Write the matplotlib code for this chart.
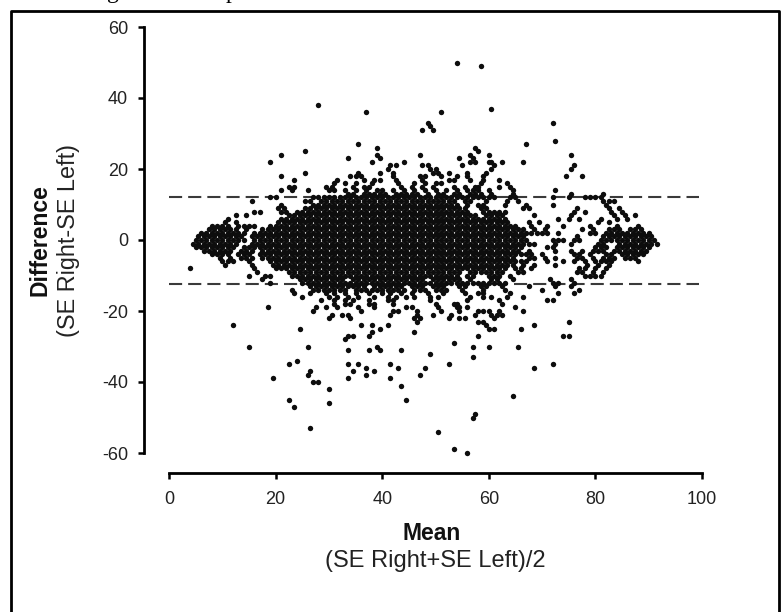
"""Bland-Altman style plot: SE right vs SE left."""
import matplotlib

matplotlib.use("Agg")
import matplotlib.pyplot as plt
from matplotlib.lines import Line2D
import numpy as np

plt.rcParams.update({"font.family": ["Liberation Sans", "DejaVu Sans"],
                     "axes.unicode_minus": False})

UPPER_LIMIT = 12
LOWER_LIMIT = -12.4
X_TICKS = [0, 20, 40, 60, 80, 100]
Y_TICKS = [60, 40, 20, 0, -20, -40, -60]

# dense part of the cloud, one row per difference value: (first mean, last mean)
CORE_Y = [13, 12, 11, 10, 9, 8, 7, 6, 5, 4, 3, 2, 1, 0, -1, -2, -3, -4, -5, -6, -7,
          -8, -9, -10, -11, -12, -13, -14]
CORE_RUNS = [
    [(33, 34.5), (36, 41), (42, 46.5), (48, 49), (50.5, 52),
     (53.5, 55), (56, 58.5), (60, 60.5), (64, 64.5), (75, 75), (81, 81)],
    [(19, 20), (26.5, 27), (28, 32), (33, 54), (55, 56), (57, 59.5), (60, 61), (63.5, 65),
     (71.5, 72), (75, 75.5), (77.5, 80), (81, 81.5)],
    [(15.5, 15.5), (25.5, 26.5), (28.5, 53.5), (55, 57), (59, 60), (63, 64), (65, 65),
     (81.5, 83.5)],
    [(21, 21), (27, 54.5), (55.5, 56), (57.5, 59), (63, 63), (66.5, 67), (71.5, 71.5), (82, 82)],
    [(20.5, 21.5), (25.5, 56), (58, 60), (66, 67.5), (76, 76), (82.5, 82.5), (84, 84)],
    [(15.5, 17), (21, 22), (24, 56.5), (59, 63), (75.5, 75.5), (77.5, 77.5), (83, 83), (85, 85)],
    [(12.5, 12.5), (14.5, 14.5), (22.5, 58), (59, 63), (68, 69), (75, 75), (83, 83),
     (85.5, 85.5), (87, 87)],
    [(11, 11), (21, 63.5), (72.5, 72.5), (74.5, 74.5), (76.5, 76.5), (80.5, 80.5),
     (83.5, 83.5), (85.5, 85.5)],
    [(10, 11), (12.5, 13), (20, 64), (67, 67.5), (69, 69.5), (80, 80), (82, 82)],
    [(8, 11.5), (13, 16), (19, 65), (67.5, 68.5), (70.5, 70.5), (73.5, 73.5), (79, 79.5),
     (83.5, 84.5), (87.5, 87.5)],
    [(7.5, 12.5), (14, 15), (17, 17), (18.5, 66.5), (68, 69), (70, 70.5), (77, 77), (79, 80),
     (82.5, 84.5), (86, 89)],
    [(6, 13), (14, 14), (16, 67), (68, 69), (70, 71), (72.5, 72.5), (79, 80), (82, 84),
     (85, 90)],
    [(5.5, 13.5), (15, 67), (76, 76), (81, 83.5), (84.5, 90.5)],
    [(5, 13), (14, 14), (16, 67.5), (71.5, 74), (75.5, 75.5), (77, 77), (81, 83), (84, 91)],
    [(4.5, 4.5), (5.5, 13), (15, 67), (67.5, 68.5), (72, 73), (75, 75), (80.5, 82), (84, 91.5)],
    [(5, 5), (6, 12.5), (14, 66.5), (70.5, 70.5), (72, 72), (79.5, 79.5), (80.5, 82),
     (83.5, 90.5)],
    [(6.5, 11.5), (13, 16), (17, 66), (67, 68), (72, 72), (75.5, 75.5), (77.5, 77.5), (79, 79),
     (80, 81.5), (83.5, 90)],
    [(8, 9), (10, 11.5), (13, 15), (17, 66), (66.5, 68.5), (69.5, 70), (75.5, 77), (78.5, 79.5),
     (82, 83.5), (84.5, 89)],
    [(9, 9), (11, 11), (13.5, 16), (17.5, 65), (67, 69), (70.5, 70.5), (72.5, 73), (76.5, 77.5),
     (79, 79), (81.5, 84), (85, 88)],
    [(9.5, 9.5), (11, 12), (15, 15.5), (18.5, 65), (66, 67.5), (71, 71), (73.5, 74), (75.5, 75.5),
     (77.5, 78.5), (80, 83.5), (87.5, 87.5)],
    [(10, 11), (15, 16), (19, 64.5), (66.5, 67), (68.5, 68.5), (72.5, 73), (78.5, 78.5),
     (80.5, 80.5), (82, 83)],
    [(4, 4), (16, 16), (20, 63), (65, 66.5), (68, 68), (77, 78), (79.5, 79.5), (82, 82)],
    [(16.5, 16.5), (22, 55), (56, 62.5), (65, 66.5), (76, 77.5), (79, 79), (81, 81)],
    [(15, 15), (17.5, 17.5), (19, 19), (23, 44), (45, 54), (55.5, 57), (60, 62), (64, 64.5),
     (78, 81.5)],
    [(17.5, 17.5), (24, 33), (34, 48), (49, 55), (56, 56.5), (60, 61.5), (64, 64), (71, 71.5),
     (75, 75)],
    [(18.5, 18.5), (25, 52), (53, 59), (60, 63), (71.5, 73), (75.5, 75.5)],
    [(26, 37), (38, 44), (45, 48), (49, 52), (54, 56), (58, 60), (62, 63), (67, 67), (72, 72),
     (75, 75)],
    [(23, 23), (27, 30), (31, 33.5), (35, 37), (38, 40), (41, 44), (46, 48), (49.5, 52), (55, 55),
     (58.5, 59), (62.5, 62.5), (69.5, 69.5), (76.5, 76.5)],
]

# scattered points around the cloud, row by row
FRINGE_Y = [50, 49, 38, 37, 36, 33, 32, 31, 28, 27, 26, 25, 24, 23, 22, 21, 20, 19, 18, 17, 16,
            15, 14, -15, -16, -17, -18, -19, -20, -21, -22, -23, -24, -25, -26, -27, -28, -29,
            -30, -31, -32, -33, -34, -35, -36, -37, -38, -39, -40, -41, -42, -44, -45, -46, -47,
            -49, -50, -53, -54, -59, -60]
FRINGE_X = [
    [54], [58.5], [28], [60.5], [37, 51], [48.5, 72], [49], [47.5, 49.5], [72.5], [35.5, 67],
    [39, 57.5], [25.5, 58], [21, 39, 47, 56.5, 60, 75.5], [33.5, 39.5, 54.5, 57],
    [19, 38, 44, 56.5, 57.5, 60, 60.5, 62.5, 66.5], [41.5, 42.5, 47.5, 48.5, 55, 61, 76],
    [41, 49, 50, 60.5, 75.5], [25.5, 35.5, 39.5, 42, 49.5, 50.5, 52.5, 56, 59.5],
    [21, 34, 35, 36, 42, 47, 48, 51, 54, 56, 59, 74.5, 77.5],
    [23.5, 31.5, 36.5, 38.5, 39.5, 42.5, 47.5, 52.5, 53.5, 56.5, 59, 62],
    [31, 33, 35, 38, 43, 46, 48, 50, 51, 58.5, 63.5],
    [22.5, 23.5, 29.5, 30.5, 34.5, 36.5, 37.5, 43.5, 45.5, 47.5, 49.5, 53.5, 55.5, 57.5, 58, 62, 64],
    [21, 23, 26, 30, 31, 33, 35, 37, 39, 40, 42, 44, 46, 48, 50, 52, 54, 56, 57, 58, 60, 64.5, 72.5],
    [23.5, 26.5, 29.5, 31, 33, 35, 37.5, 40, 41.5, 43.5, 45.5, 48.5, 51.5, 55.5, 58, 59, 64, 73, 76],
    [25, 30, 31.5, 33.5, 35.5, 38.5, 41, 42.5, 44.5, 46, 49, 50.5, 56.5, 59, 60.5, 63.5, 66.5],
    [28.5, 31, 33, 34.5, 37.5, 41, 42, 49, 56, 62, 71, 72],
    [31, 33, 34, 37.5, 38.5, 42, 50, 53.5, 54, 62.5],
    [18.5, 27.5, 29.5, 31.5, 35.5, 38.5, 44.5, 45.5, 50.5, 54, 54.5, 56, 65],
    [27, 36, 42, 43, 46.5, 51, 54.5, 58, 59, 60, 62, 66.5],
    [30.5, 32.5, 33.5, 41.5, 46.5, 49.5, 53, 57.5, 60.5, 61.5, 62.5],
    [30, 34, 46, 47, 52.5, 54.5, 55.5, 61], [46.5, 58, 59, 75],
    [12, 36, 38, 41, 59.5, 68.5], [24.5, 39.5, 60, 61, 66], [38, 46], [33.5, 34.5, 37.5, 58, 74, 75],
    [33], [53.5], [15, 26, 39, 57, 60, 65.5], [33.5, 37.5, 39.5, 43.5], [49], [57],
    [24], [22.5, 33.5, 35.5, 41.5, 52.5, 72], [37, 43, 48, 68.5], [26.5, 34.5, 38.5], [26, 37, 47],
    [19.5, 33.5, 41.5], [27, 28], [43.5], [30], [64.5], [22.5, 44.5], [30], [23.5], [57.5], [57],
    [26.5], [50.5], [53.5], [56],
]

fig = plt.figure(figsize=(7.82, 6.12), dpi=100)
ax = fig.add_axes([169 / 782, 1 - 453 / 612, 533 / 782, 426 / 612])

# the cloud sits on a lattice: twice the mean and the difference share parity
core_x, core_y = [], []
for y, runs in zip(CORE_Y, CORE_RUNS):
    for first, last in runs:
        k0 = round(2 * first)
        if (k0 - y) % 2:
            k0 += 1
        k1 = max(k0, round(2 * last))
        ks = np.arange(k0, k1 + 1, 2)
        core_x.extend(ks / 2)
        core_y.extend([y] * len(ks))
fringe_x = [x for row in FRINGE_X for x in row]
fringe_y = [y for y, row in zip(FRINGE_Y, FRINGE_X) for _ in row]

for level in (UPPER_LIMIT, LOWER_LIMIT):
    ax.plot([0, 99.5], [level, level], color="#3a3a3a", lw=1.5, ls=(0, (6.3, 2.9)), zorder=1)
ax.scatter(core_x + fringe_x, core_y + fringe_y, s=15, color="#0d0d0d", marker="o", lw=0,
           clip_on=False, zorder=2)

ax.set_xlim(0, 100)
ax.set_ylim(-60, 60)
ax.set_xticks(X_TICKS)
ax.set_yticks(Y_TICKS)
ax.spines[["top", "right"]].set_visible(False)
ax.spines["left"].set_position(("outward", 18))
ax.spines["bottom"].set_position(("outward", 14.4))
ax.spines[["left", "bottom"]].set_linewidth(2)
ax.tick_params(axis="both", width=1.8, length=4, labelsize=13, labelcolor="#222222")
ax.tick_params(axis="x", pad=9)
ax.tick_params(axis="y", pad=7.5)

fig.text(40 / 782, 1 - 240 / 612, "Difference", rotation=90, ha="center", va="center",
         fontsize=16.5, fontweight="bold", color="#111111")
fig.text(68 / 782, 1 - 241 / 612, "(SE Right-SE Left)", rotation=90, ha="center", va="center",
         fontsize=16.8, color="#222222")
fig.text(432 / 782, 1 - 533 / 612, "Mean", ha="center", va="center", fontsize=16.5,
         fontweight="bold", color="#111111")
fig.text(435 / 782, 1 - 561 / 612, "(SE Right+SE Left)/2", ha="center", va="center",
         fontsize=17, color="#222222")

# descenders of the caption line above, cut off by the image edge as in the source
fig.text(113 / 782, 1 + 2 / 612, "g", ha="center", va="baseline", family="Liberation Serif",
         fontsize=17, color="black")
fig.text(232 / 782, 1 + 2 / 612, "p", ha="center", va="baseline", family="Liberation Serif",
         fontsize=17, color="black")

# page frame, open at the bottom where the image is cut off
fig.add_artist(Line2D([11 / 782, 11 / 782, 779 / 782, 779 / 782],
                      [0, 1 - 11 / 612, 1 - 11 / 612, 0], color="black", lw=2))

fig.savefig("out.png", dpi=100)
